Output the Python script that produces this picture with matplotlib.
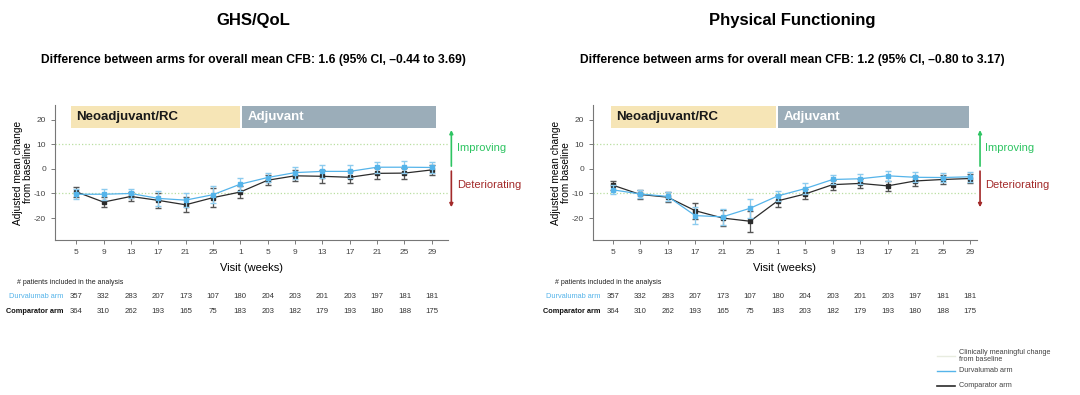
import matplotlib
matplotlib.use("Agg")
import matplotlib.pyplot as plt
import numpy as np

plt.rcParams["font.family"] = ["Liberation Sans", "DejaVu Sans"]

# veriler
visits = ["5", "9", "13", "17", "21", "25", "1", "5", "9", "13", "17", "21", "25", "29"]

ghs_durva = [-10.3, -10.3, -10.0, -12.0, -12.7, -10.5, -6.2, -3.5, -1.5, -1.0, -1.0, 0.7, 0.7, 0.6]
ghs_durva_err = [2.0, 2.2, 2.0, 3.0, 3.0, 3.5, 2.6, 2.0, 2.4, 2.6, 2.6, 2.3, 2.5, 2.2]
ghs_comp = [-9.3, -13.5, -11.2, -12.8, -14.6, -11.7, -9.4, -4.6, -2.8, -3.0, -3.4, -1.8, -1.7, -0.4]
ghs_comp_err = [2.0, 2.2, 2.0, 3.0, 3.0, 4.0, 2.6, 2.0, 2.2, 2.6, 2.4, 2.2, 2.2, 2.2]

pf_durva = [-8.5, -10.2, -11.2, -19.0, -19.5, -16.0, -11.0, -8.0, -4.3, -4.0, -2.8, -3.4, -3.5, -3.2]
pf_durva_err = [1.8, 1.8, 1.8, 3.5, 3.3, 3.8, 2.2, 2.2, 2.0, 2.0, 2.0, 2.0, 2.0, 2.0]
pf_comp = [-6.6, -10.4, -11.5, -17.0, -20.0, -21.3, -13.0, -10.2, -6.4, -5.9, -6.9, -4.9, -4.3, -3.9]
pf_comp_err = [1.8, 1.8, 2.0, 3.3, 3.3, 4.3, 2.5, 2.2, 2.0, 2.0, 2.0, 2.0, 2.0, 2.0]

n_durva = [357, 332, 283, 207, 173, 107, 180, 204, 203, 201, 203, 197, 181, 181]
n_comp = [364, 310, 262, 193, 165, 75, 183, 203, 182, 179, 193, 180, 188, 175]

BLUE = "#55b4ea"
BLACK = "#2b2b2b"
GREEN_DOT = "#b9dfa0"

fig = plt.figure(figsize=(10.8, 3.95), dpi=100)


def panel(left, width, xlim, cx, title, subtitle, durva, durva_err, comp, comp_err, neo_span, adj_span):
    ax = fig.add_axes([left, 0.392, width, 0.342])
    x = np.arange(len(visits))
    ax.set_xlim(*xlim)
    ax.set_ylim(-29, 26)

    # faz bantlari
    ax.fill_between(neo_span, 16.7, 25.7, color="#f6e5b6", lw=0)
    ax.fill_between(adj_span, 16.7, 25.7, color="#9badb9", lw=0)
    ax.text(neo_span[0] + 0.2, 21.2, "Neoadjuvant/RC", fontsize=9.5, fontweight="bold",
            color="#1a1a1a", va="center")
    ax.text(adj_span[0] + 0.2, 21.2, "Adjuvant", fontsize=9.5, fontweight="bold",
            color="white", va="center")

    ax.axhline(10, color=GREEN_DOT, ls=":", lw=0.9)
    ax.axhline(-10, color=GREEN_DOT, ls=":", lw=0.9)

    ax.errorbar(x, comp, yerr=comp_err, color=BLACK, marker="s", ms=2.5, lw=0.9,
                elinewidth=0.9, capsize=2.5, ecolor="#555555", zorder=3)
    ax.errorbar(x, durva, yerr=durva_err, color=BLUE, marker="s", ms=2.5, lw=0.9,
                elinewidth=0.9, capsize=2.5, ecolor="#8ccbee", zorder=4)

    ax.set_xticks(x)
    ax.set_xticklabels(visits, fontsize=6, color="#444444")
    ax.set_yticks([20, 10, 0, -10, -20])
    ax.set_yticklabels(["20", "10", "0", "-10", "-20"], fontsize=6, color="#444444")
    ax.tick_params(length=3, width=0.6, colors="#666666", labelcolor="#444444")
    for s in ["top", "right"]:
        ax.spines[s].set_visible(False)
    for s in ["left", "bottom"]:
        ax.spines[s].set_color("#777777")
        ax.spines[s].set_linewidth(0.8)
    ax.set_xlabel("Visit (weeks)", fontsize=8, labelpad=5)
    ax.set_ylabel("Adjusted mean change\nfrom baseline", fontsize=7.3, labelpad=0.5, linespacing=1.0)

    # Improving / Deteriorating oklari
    ax.annotate("", xy=(1.008, 0.815), xytext=(1.008, 0.548), xycoords="axes fraction",
                arrowprops=dict(arrowstyle="-|>", color="#2ec462", lw=1.2, mutation_scale=5,
                                shrinkA=0, shrinkB=0),
                annotation_clip=False)
    ax.annotate("", xy=(1.008, 0.244), xytext=(1.008, 0.511), xycoords="axes fraction",
                arrowprops=dict(arrowstyle="-|>", color="#a32a2a", lw=1.2, mutation_scale=5,
                                shrinkA=0, shrinkB=0),
                annotation_clip=False)
    ax.text(1.022, 0.685, "Improving", transform=ax.transAxes, fontsize=8, color="#2ec462",
            va="center")
    ax.text(1.022, 0.405, "Deteriorating", transform=ax.transAxes, fontsize=8, color="#a32a2a",
            va="center")

    # basliklar
    fig.text(cx, 0.9476, title, ha="center", va="center", fontsize=12, fontweight="bold")
    fig.text(cx, 0.848, subtitle, ha="center", va="center", fontsize=8.7, fontweight="bold")

    # hasta sayilari tablosu
    trans = ax.get_xaxis_transform()
    fig.text(left - 0.035, 0.284, "# patients included in the analysis", fontsize=5, color="#222222",
             va="center")
    ax.text(-0.45, -0.42, "Durvalumab arm", transform=trans, fontsize=5.3, color=BLUE,
            ha="right", va="center")
    ax.text(-0.45, -0.525, "Comparator arm", transform=trans, fontsize=5.3, color="#111111",
            ha="right", va="center", fontweight="bold")
    for i in range(len(visits)):
        ax.text(i, -0.42, str(n_durva[i]), transform=trans, fontsize=5.6, color="#333333",
                ha="center", va="center")
        ax.text(i, -0.525, str(n_comp[i]), transform=trans, fontsize=5.6, color="#333333",
                ha="center", va="center")
    return ax


panel(0.051, 0.364, (-0.77, 13.6), 0.2345, "GHS/QoL",
      "Difference between arms for overall mean CFB: 1.6 (95% CI, \u20130.44 to 3.69)",
      ghs_durva, ghs_durva_err, ghs_comp, ghs_comp_err, (-0.19, 5.98), (6.06, 13.16))
panel(0.549, 0.3556, (-0.72, 13.25), 0.7333, "Physical Functioning",
      "Difference between arms for overall mean CFB: 1.2 (95% CI, \u20130.80 to 3.17)",
      pf_durva, pf_durva_err, pf_comp, pf_comp_err, (-0.06, 5.94), (6.02, 12.97))

# lejant
lx0, lx1 = 0.8676, 0.884
fig.add_artist(plt.Line2D([lx0, lx1], [0.099, 0.099], color="#e8ece0", lw=1.0))
fig.text(0.888, 0.099, "Clinically meaningful change\nfrom baseline", fontsize=5.2,
         color="#444444", va="center", linespacing=1.15)
fig.add_artist(plt.Line2D([lx0, lx1], [0.061, 0.061], color=BLUE, lw=1.0))
fig.text(0.888, 0.061, "Durvalumab arm", fontsize=5.2, color="#444444", va="center")
fig.add_artist(plt.Line2D([lx0, lx1], [0.023, 0.023], color=BLACK, lw=1.2))
fig.text(0.888, 0.023, "Comparator arm", fontsize=5.2, color="#444444", va="center")

fig.savefig("out.png", dpi=100)
